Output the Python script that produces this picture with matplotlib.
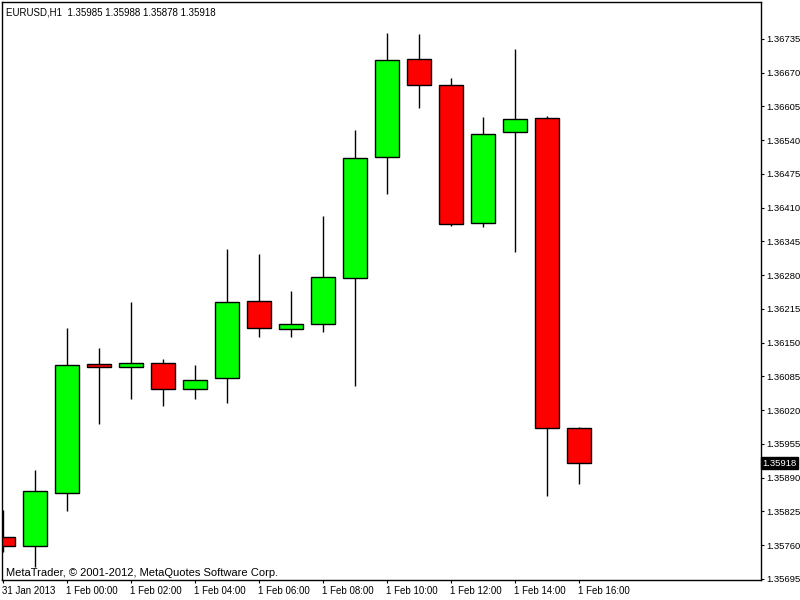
import matplotlib
matplotlib.use('Agg')
import matplotlib.pyplot as plt
import matplotlib.transforms as mtransforms

plt.rcParams['font.family'] = ['Liberation Sans', 'DejaVu Sans']

# hourly EURUSD bars, 31 Jan 22:00 .. 1 Feb 16:00
opens = [1.35775, 1.35758, 1.35860, 1.36109, 1.36103, 1.36110, 1.36060, 1.36082, 1.36230, 1.36176,
         1.36186, 1.36274, 1.36507, 1.36696, 1.36646, 1.36380, 1.36555, 1.36582, 1.35985]
highs = [1.35827, 1.35905, 1.36178, 1.36139, 1.36229, 1.36118, 1.36107, 1.36330, 1.36321, 1.36250,
         1.36394, 1.36560, 1.36747, 1.36745, 1.36660, 1.36585, 1.36716, 1.36587, 1.35988]
lows = [1.35746, 1.35718, 1.35825, 1.35994, 1.36042, 1.36029, 1.36042, 1.36033, 1.36160, 1.36160,
        1.36171, 1.36067, 1.36437, 1.36601, 1.36375, 1.36372, 1.36325, 1.35855, 1.35878]
closes = [1.35758, 1.35864, 1.36107, 1.36103, 1.36110, 1.36060, 1.36078, 1.36228, 1.36178, 1.36186,
          1.36276, 1.36505, 1.36694, 1.36646, 1.36378, 1.36551, 1.36580, 1.35985, 1.35918]

price_ticks = [1.36735, 1.36670, 1.36605, 1.36540, 1.36475, 1.36410, 1.36345, 1.36280, 1.36215,
               1.36150, 1.36085, 1.36020, 1.35955, 1.35890, 1.35825, 1.35760, 1.35695]
time_ticks = [0, 2, 4, 6, 8, 10, 12, 14, 16, 18]
time_labels = ['31 Jan 2013', '1 Feb 00:00', '1 Feb 02:00', '1 Feb 04:00', '1 Feb 06:00',
               '1 Feb 08:00', '1 Feb 10:00', '1 Feb 12:00', '1 Feb 14:00', '1 Feb 16:00']

fig = plt.figure(figsize=(8, 6), dpi=100)
ax = fig.add_axes([0.0025, 0.0333, 0.94875, 0.96337])

x = list(range(len(opens)))
colors = ['#00ff00' if c >= o else '#ff0000' for o, c in zip(opens, closes)]
bottoms = [min(o, c) for o, c in zip(opens, closes)]
heights = [abs(c - o) for o, c in zip(opens, closes)]

ax.vlines(x, lows, highs, color='black', linewidth=1.0, zorder=1)
ax.bar(x, heights, bottom=bottoms, width=0.75, color=colors, edgecolor='black',
       linewidth=1.0, zorder=2)

ax.set_xlim(-0.031, 23.69)
ax.set_ylim(1.35693, 1.36806)

ax.yaxis.tick_right()
ax.set_yticks(price_ticks)
ax.set_yticklabels(['%.5f' % p for p in price_ticks])
ax.set_xticks(time_ticks)
ax.set_xticklabels(time_labels, ha='left')
ax.tick_params(axis='y', labelsize=6.8, length=2.5, width=0.8, pad=1.5, colors='black')
ax.tick_params(axis='x', labelsize=7, length=2.5, width=0.8, pad=2, colors='black')
offset = mtransforms.ScaledTranslation(-1 / 72, 0, fig.dpi_scale_trans)
for lbl in ax.get_xticklabels():
    lbl.set_transform(lbl.get_transform() + offset)

for sp in ax.spines.values():
    sp.set_linewidth(1.0)

ax.text(0.005, 0.981, 'EURUSD,H1  1.35985 1.35988 1.35878 1.35918', transform=ax.transAxes,
        fontsize=7, va='center', ha='left')
ax.text(0.005, 0.003, 'MetaTrader, \u00a9 2001-2012, MetaQuotes Software Corp.',
        transform=ax.transAxes, fontsize=8, va='bottom', ha='left')

trans = mtransforms.blended_transform_factory(ax.transAxes, ax.transData)
ax.text(1.002, closes[-1], '%.5f' % closes[-1], transform=trans, fontsize=6.8, color='white',
        va='center', ha='left', bbox=dict(facecolor='black', edgecolor='black', pad=1.2))

fig.savefig('out.png', dpi=100)
